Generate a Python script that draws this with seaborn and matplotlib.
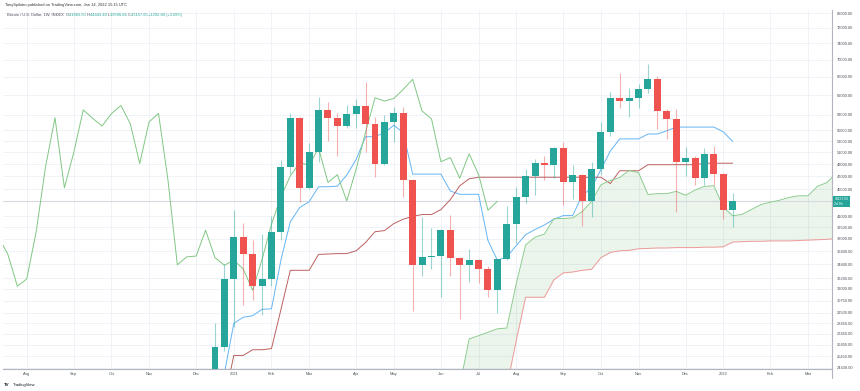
import numpy as np
import pandas as pd
import matplotlib
matplotlib.use("Agg")
import matplotlib.pyplot as plt
import seaborn as sns
from matplotlib.ticker import FixedLocator, NullLocator
from matplotlib.transforms import blended_transform_factory

# ── Data: Bitcoin / U.S. Dollar, 1W, INDEX ────────────────────────────────────
FIRST_WEEK = "2020-07-13"      # week index 0
N_WEEKS = 90

CANDLE_START = 23              # week of 2020-12-21
candle_open = [23850, 26270, 33100, 38200, 36000, 32300, 33100, 38880, 48580, 57400,
               45200, 51000, 58950, 57300, 55800, 58200, 59850, 56250, 49100, 56600,
               58250, 46450, 34750, 35700, 35800, 39100, 35600, 34700, 35300, 34250,
               31850, 35400, 39900, 43840, 47050, 49250, 48800, 51760, 46040, 47250,
               43200, 48180, 54660, 61460, 60760, 61300, 63250, 65450, 58730, 57200,
               49400, 50100, 46700, 50750, 47300, 41883.50]
candle_high = [28450, 34800, 41950, 40100, 37800, 38600, 41000, 49700, 58300, 57500,
               52600, 61700, 60500, 58400, 60000, 61100, 64850, 57500, 57900, 59600,
               59550, 46600, 40900, 39400, 39300, 41200, 35700, 36700, 35400, 34600,
               35450, 42500, 45350, 48250, 49850, 50400, 52000, 52900, 48850, 47400,
               49300, 56560, 62730, 66900, 63600, 64300, 68870, 66250, 59100, 59070,
               51900, 50300, 51800, 52100, 47500, 44443.40]
candle_low = [21800, 25900, 28130, 30300, 30800, 29300, 32300, 37800, 47450, 43100,
              45000, 49400, 53050, 50400, 55500, 55480, 51100, 46950, 48900, 52900,
              43850, 29700, 33400, 34250, 31100, 33400, 28880, 32800, 32700, 31100,
              29450, 35300, 37400, 42850, 44100, 46400, 46700, 42600, 43500, 39700,
              40850, 47200, 54000, 59400, 57450, 59400, 62370, 55150, 53450, 41650,
              47050, 45600, 45600, 45600, 40570, 39596.66]
candle_close = [26270, 33100, 38200, 36000, 32300, 33100, 38880, 48580, 57400, 45200,
                51000, 58950, 57300, 55800, 58200, 59850, 56250, 49100, 56600, 58250,
                46450, 34750, 35700, 35800, 39100, 35600, 34700, 35300, 34250, 31850,
                35400, 39900, 43840, 47050, 49250, 48800, 51760, 46040, 47250, 43200,
                48180, 54660, 61460, 60760, 61300, 63250, 65450, 58730, 57200, 49400,
                50100, 46700, 50750, 47300, 41860, 43157.65]

# Ichimoku Cloud lines
LINE_START = 23
conversion_line = [20800, 24000, 28450, 29050, 29200, 29850, 29900, 35300, 40250, 42250,
                   43100, 45350, 45350, 45450, 47200, 49800, 53800, 53800, 54550, 55950,
                   54550, 47350, 47350, 47350, 47350, 44700, 44200, 44200, 44200, 37750,
                   35300, 35700, 37100, 38500, 39200, 39800, 40600, 41100, 41100, 44000,
                   45150, 48100, 51250, 53400, 53400, 53400, 54300, 54300, 54900, 55600,
                   55600, 55600, 55600, 55600, 54700, 52950]
base_line = [18700, 21900, 25500, 25500, 26000, 26000, 26100, 29800, 34100, 34100,
             34100, 36000, 36050, 36100, 36100, 36450, 37500, 38900, 39050, 40000,
             40600, 41000, 41250, 41250, 41950, 43400, 45500, 46600, 46850, 46850,
             46850, 46850, 46850, 46850, 46850, 46850, 46850, 46850, 46850, 46850,
             46850, 46850, 45850, 47900, 47900, 47900, 48900, 48900, 48900, 48900,
             48900, 48900, 49150, 49150, 49150, 49150]
SPAN_START = 49
leading_span_a = [22950, 26975, 27275, 27600, 27925, 28000, 32550, 37175, 38175, 38600,
                  40675, 40700, 40775, 41650, 43125, 45650, 46350, 46800, 47975, 47575,
                  44175, 44300, 44300, 44650, 44050, 44850, 45400, 45525, 42300, 41075,
                  41275, 41975, 42675, 43025, 43325, 43725, 43975, 43975, 45425, 46000,
                  47475]
leading_span_b = [19300, 22900, 22900, 22900, 22900, 22900, 26800, 31100, 31100, 31100,
                  33000, 33800, 33900, 34100, 34200, 35600, 36250, 36450, 36500, 36700,
                  36750, 36800, 36800, 36850, 36850, 36850, 36900, 36900, 36950, 37550,
                  37600, 37650, 37650, 37700, 37700, 37700, 37750, 37800, 37850, 37900,
                  38000]
LAGGING_SHIFT = 25

price_ticks = [82000, 78000, 74000, 70000, 66000, 62000, 58000, 55000, 53000, 51000,
               49000, 47000, 45000, 41000, 39500, 38000, 36400, 34800, 33200, 32000,
               30750, 29500, 28450, 27450, 26450, 25450, 24430]
last_price = 43157.65

header_pieces = [("Bitcoin / U.S. Dollar, 1W, INDEX  ", "grey"), ("O", "grey"),
                 ("41883.50 ", "up"), ("H", "grey"), ("44443.40 ", "up"),
                 ("L", "grey"), ("39596.66 ", "up"), ("C", "grey"),
                 ("43157.65 ", "up"), ("+1292.80 (+3.09%)", "up")]

UP, DOWN = "#26A69A", "#EF5350"
GREY = "#50535E"

# ── Figure ────────────────────────────────────────────────────────────────────
sns.set_theme(style="white")
plt.rcParams["font.family"] = ["Liberation Sans", "DejaVu Sans"]

W, H = 860, 391
fig = plt.figure(figsize=(W / 100, H / 100), dpi=100)
ax = fig.add_axes([3 / W, 1 - 369 / H, (832 - 3) / W, (369 - 10) / H])

ax.set_yscale("log")
ax.set_ylim(24346, 82920)
ax.set_xlim(0.478, 88.55)

# candles
cx = np.arange(CANDLE_START, CANDLE_START + len(candle_close))
o, h, l, c = map(np.array, (candle_open, candle_high, candle_low, candle_close))
up = c >= o
body_col = np.where(up, UP, DOWN)
ax.vlines(cx, l, h, colors=body_col, lw=0.8, alpha=0.45, zorder=3)
ax.bar(cx, np.abs(c - o), bottom=np.minimum(o, c), width=0.74,
       color=body_col, linewidth=0, zorder=4)

# ichimoku
lx = np.arange(LINE_START, LINE_START + len(conversion_line))
sx = np.arange(SPAN_START, SPAN_START + len(leading_span_a))
lines = pd.concat([
    pd.DataFrame({"week": lx, "price": conversion_line, "line": "Conversion"}),
    pd.DataFrame({"week": lx, "price": base_line, "line": "Base"}),
    pd.DataFrame({"week": cx - LAGGING_SHIFT, "price": candle_close, "line": "Lagging"}),
    pd.DataFrame({"week": sx, "price": leading_span_a, "line": "Span A"}),
    pd.DataFrame({"week": sx, "price": leading_span_b, "line": "Span B"}),
])
palette = {"Conversion": "#64B5F6", "Base": "#BC6060", "Lagging": "#81C784",
           "Span A": "#8CCB8E", "Span B": "#EF9A9A"}
sns.lineplot(data=lines, x="week", y="price", hue="line", palette=palette,
             linewidth=0.7, legend=False, ax=ax, zorder=2, estimator=None, sort=False)
ax.fill_between(sx, leading_span_a, leading_span_b, color="#43A047", alpha=0.1,
                linewidth=0, zorder=1)

ax.axhline(last_price, color="#D6D9E0", lw=0.8, zorder=1)

# axes: months along the bottom, prices on the right
dates = pd.date_range(FIRST_WEEK, periods=N_WEEKS, freq="7D")
first_of_month = [i for i in range(1, N_WEEKS) if dates[i].month != dates[i - 1].month]
month_labels = [str(dates[i].year) if dates[i].month == 1 else dates[i].strftime("%b")
                for i in first_of_month]
ax.xaxis.set_major_locator(FixedLocator(first_of_month))
ax.set_xticklabels(month_labels)
ax.yaxis.set_major_locator(FixedLocator(price_ticks))
ax.yaxis.set_minor_locator(NullLocator())
ax.set_yticklabels([f"{p:.2f}" for p in price_ticks])
ax.yaxis.tick_right()
ax.tick_params(axis="both", length=0, labelsize=2.9, colors=GREY)
ax.tick_params(axis="x", pad=2.2)
ax.tick_params(axis="y", pad=3.6)
ax.set_xlabel("")
ax.set_ylabel("")
ax.grid(True, color="#EDF0F5", lw=0.6, zorder=0)
for side in ("top", "left"):
    ax.spines[side].set_visible(False)
for side in ("right", "bottom"):
    ax.spines[side].set_color("#B2B5BE")
    ax.spines[side].set_linewidth(0.8)
fig.add_artist(plt.Line2D([832 / W, 832 / W], [1 - 378 / H, 1 - 369 / H],
                          color="#B2B5BE", lw=0.8))

# last price tag
trans = blended_transform_factory(ax.transAxes, ax.transData)
ax.text(1.003, last_price, "43157.65\n2d 9h", transform=trans, fontsize=2.4,
        color="white", va="center", ha="left", linespacing=1.2,
        bbox=dict(boxstyle="square,pad=0.35", fc=UP, ec="none"), zorder=10,
        clip_on=False)

# header texts
fig.text(5 / W, 1 - 5 / H, "TonySpilotro published on TradingView.com, Jan 14, 2022 15:15 UTC",
         fontsize=2.9, color="#333333", va="center")
first_piece, first_kind = header_pieces[0]
anchor = fig.text(7 / W, 1 - 15 / H, first_piece, fontsize=2.9,
                  color=UP if first_kind == "up" else GREY, va="center")
for piece, kind in header_pieces[1:]:
    col = UP if kind == "up" else GREY
    anchor = ax.annotate(piece, xy=(1, 0.5), xycoords=anchor, va="center", ha="left",
                         fontsize=2.9, color=col, annotation_clip=False)

# TradingView logo
fig.text(4 / W, 1 - 385 / H, "TV", fontsize=3.2, fontweight="bold", color="#131722",
         va="center")
fig.text(13 / W, 1 - 385 / H, "TradingView", fontsize=3.0, color="#131722", va="center")

fig.savefig("out.png", dpi=100, facecolor="white")
